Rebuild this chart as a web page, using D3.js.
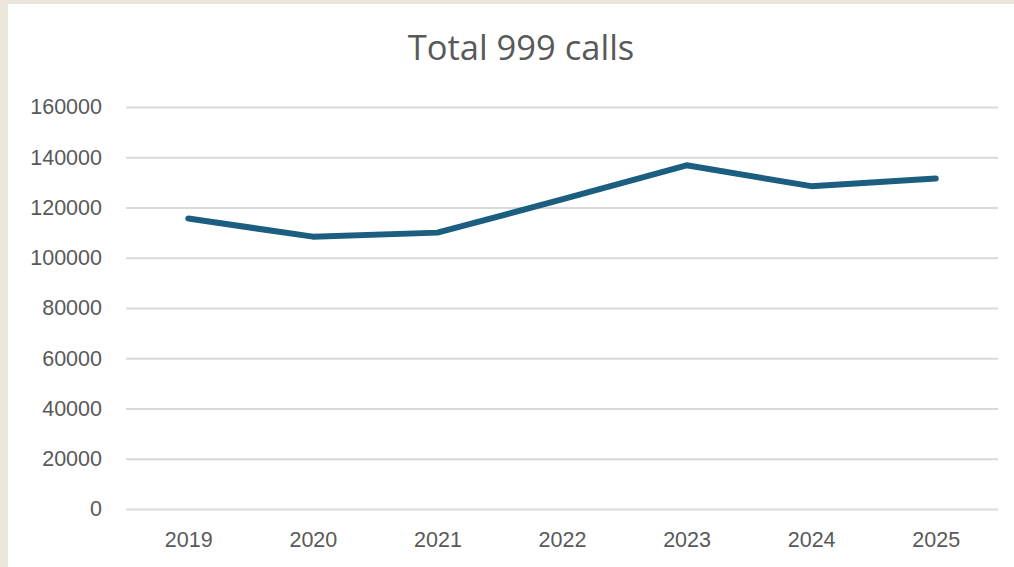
<!DOCTYPE html>
<html>
<head>
<meta charset="utf-8">
<script src="https://cdn.jsdelivr.net/npm/d3@7"></script>
<style>
html,body{margin:0;padding:0;background:#ece6da;}
svg{display:block;}
</style>
</head>
<body>
<svg id="chart" width="1014" height="567"></svg>
<script>
const years = ["2019","2020","2021","2022","2023","2024","2025"];
const calls = [115600, 108400, 110000, 123200, 136800, 128500, 131500];
const yTicks = [0,20000,40000,60000,80000,100000,120000,140000,160000];
const title = "Total 999 calls";

const svg = d3.select("#chart");
svg.append("rect").attr("x",8).attr("y",3).attr("width",1006).attr("height",564).attr("fill","#ffffff");
svg.append("line").attr("x1",8).attr("x2",1014).attr("y1",3.5).attr("y2",3.5).attr("stroke","#e4e4e8").attr("stroke-width",1);

const x = d3.scalePoint().domain(years).range([126,998]).padding(0.5);
const y = d3.scaleLinear().domain([0,160000]).range([509,107]);

const fontAxis = "'Liberation Sans', Arial, sans-serif";

const gy = svg.append("g").attr("transform","translate(126,0)")
  .call(d3.axisLeft(y).tickValues(yTicks).tickSize(-872).tickPadding(24).tickFormat(d3.format("d")));
gy.select(".domain").remove();
gy.selectAll(".tick line").attr("stroke","#d9d9d9").attr("stroke-width",2);
gy.selectAll(".tick text").attr("fill","#595959").style("font-family",fontAxis).style("font-size","21.5px");

const gx = svg.append("g").attr("transform","translate(0,509)")
  .call(d3.axisBottom(x).tickSize(0).tickPadding(23));
gx.select(".domain").remove();
gx.selectAll(".tick text").attr("fill","#595959").style("font-family",fontAxis).style("font-size","21.5px");

const line = d3.line().x((d,i)=>x(years[i])).y(d=>y(d));
svg.append("path").datum(calls).attr("d",line).attr("fill","none")
  .attr("stroke","#1b5e80").attr("stroke-width",6).attr("stroke-linecap","round").attr("stroke-linejoin","round");

svg.append("text").attr("x",521).attr("y",60).attr("text-anchor","middle")
  .attr("fill","#595959").style("font-family","'Open Sans', sans-serif").style("font-size","34.5px").text(title);
</script>
</body>
</html>
